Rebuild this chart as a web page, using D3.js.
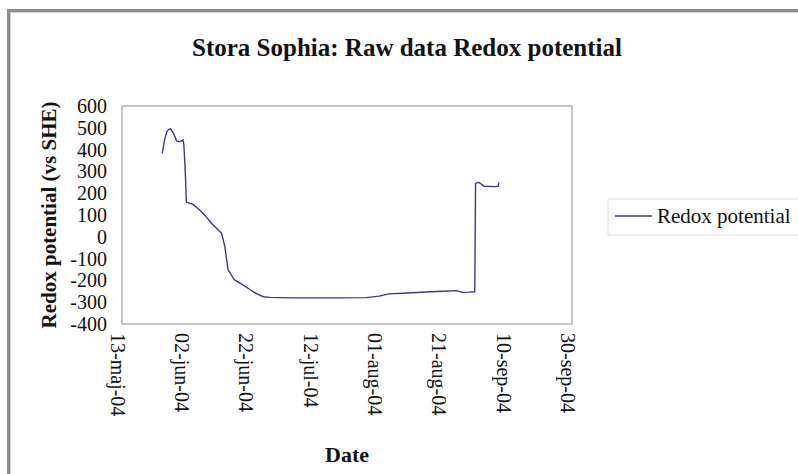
<!DOCTYPE html>
<html><head><meta charset="utf-8">
<script src="https://cdn.jsdelivr.net/npm/d3@7"></script>
<style>html,body{margin:0;padding:0;background:#fff;}svg{display:block;} text{font-family:'Liberation Serif','Times New Roman',serif;}</style>
</head><body>
<svg id="chart" width="798" height="474"></svg>
<script>
const title = "Stora Sophia: Raw data Redox potential";
const yLabel = "Redox potential (vs SHE)";
const xLabel = "Date";
const seriesName = "Redox potential";
const yTicks = [600,500,400,300,200,100,0,-100,-200,-300,-400];
const xTickDates = ["2004-05-13","2004-06-02","2004-06-22","2004-07-12","2004-08-01","2004-08-21","2004-09-10","2004-09-30"];
const monthNames = ["jan","feb","mar","apr","maj","jun","jul","aug","sep","okt","nov","dec"];
const dates = ["2004-05-25T12:00","2004-05-26T06:00","2004-05-27T00:00","2004-05-28T00:00","2004-05-29T00:00","2004-05-30T00:00",
"2004-05-31T00:00","2004-06-01T00:00","2004-06-01T06:00","2004-06-01T12:00","2004-06-01T18:00","2004-06-02T00:00",
"2004-06-03T00:00","2004-06-04T00:00","2004-06-06T00:00","2004-06-08T00:00","2004-06-10T00:00","2004-06-12T00:00",
"2004-06-13T00:00","2004-06-14T00:00","2004-06-15T00:00","2004-06-17T00:00","2004-06-19T00:00","2004-06-22T00:00",
"2004-06-24T00:00","2004-06-26T00:00","2004-06-28T00:00","2004-07-05T00:00","2004-07-20T00:00","2004-07-28T00:00",
"2004-08-01T00:00","2004-08-04T00:00","2004-08-10T00:00","2004-08-17T00:00","2004-08-21T00:00","2004-08-25T00:00",
"2004-08-27T00:00","2004-08-29T00:00","2004-08-30T18:00","2004-08-31T00:00","2004-09-01T00:00","2004-09-02T00:00",
"2004-09-02T12:00","2004-09-06T00:00","2004-09-07T00:00","2004-09-07T06:00"];
const values = [383,445,485,497,475,440,436,445,420,352,276,160,154,150,125,95,60,30,16,-45,-152,-198,-215,-244,
-262,-275,-278,-280,-280,-279,-272,-262,-258,-252,-250,-247,-255,-254,-252,245,250,240,232,230,232,250];

const parse = d3.timeParse("%Y-%m-%dT%H:%M");
const parseDay = d3.timeParse("%Y-%m-%d");
const data = dates.map((d,i)=>({date:parse(d), value:values[i]}));
const svg = d3.select("#chart");
const serif = "'Liberation Serif','Times New Roman',serif";

// outer frame
svg.append("rect").attr("x",8.5).attr("y",10.5).attr("width",800).attr("height",480)
  .attr("fill","#fff").attr("stroke","#8c8c8c").attr("stroke-width",3);
svg.append("rect").attr("x",10.5).attr("y",12.5).attr("width",800).attr("height",480)
  .attr("fill","none").attr("stroke","#d0d0d0").attr("stroke-width",1);

const L=122, R=572, T=106, B=324;
const x = d3.scaleTime().domain([parseDay(xTickDates[0]), parseDay(xTickDates[xTickDates.length-1])]).range([L,R]);
const y = d3.scaleLinear().domain([-400,600]).range([B,T]);

// plot area
svg.append("rect").attr("x",L).attr("y",T).attr("width",R-L).attr("height",B-T)
  .attr("fill","#fff").attr("stroke","#b4b4b4").attr("stroke-width",1.5);

// y axis
const yAxis = d3.axisLeft(y).tickValues(yTicks).tickFormat(d=>String(d)).tickSize(0).tickPadding(15);
const gy = svg.append("g").attr("transform",`translate(${L},0)`).call(yAxis)
  .attr("font-family",serif).attr("font-size",20);
gy.select(".domain").remove();
gy.selectAll("text").attr("fill","#111");

// x axis
const fmt = d => { const dd = String(d.getDate()).padStart(2,"0"); return `${dd}-${monthNames[d.getMonth()]}-${String(d.getFullYear()).slice(2)}`; };
const xAxis = d3.axisBottom(x).tickValues(xTickDates.map(parseDay)).tickFormat(fmt).tickSize(0).tickPadding(0);
const gx = svg.append("g").attr("transform",`translate(0,${B})`).call(xAxis)
  .attr("font-family",serif).attr("font-size",20);
gx.select(".domain").remove();
gx.selectAll("text").attr("fill","#111")
  .attr("text-anchor","start").attr("x",0).attr("y",0).attr("dy","0.33em")
  .attr("transform","translate(-5,9) rotate(90)");

// line
const line = d3.line().x(d=>x(d.date)).y(d=>y(d.value));
svg.append("path").datum(data).attr("d",line).attr("fill","none")
  .attr("stroke","#3c3c82").attr("stroke-width",1.4).attr("stroke-linejoin","round");

// title
svg.append("text").attr("x",407).attr("y",56).attr("text-anchor","middle")
  .attr("font-family",serif).attr("font-weight","bold").attr("font-size",25).attr("fill","#111").text(title);
// y label
svg.append("text").attr("transform",`translate(49,${(T+B)/2}) rotate(-90)`).attr("text-anchor","middle")
  .attr("dy","0.33em")
  .attr("font-family",serif).attr("font-weight","bold").attr("font-size",21).attr("fill","#111").text(yLabel);
// x label
svg.append("text").attr("x",347).attr("y",462).attr("text-anchor","middle")
  .attr("font-family",serif).attr("font-weight","bold").attr("font-size",22).attr("fill","#111").text(xLabel);

// legend
svg.append("rect").attr("x",608).attr("y",199).attr("width",192).attr("height",36)
  .attr("fill","#fff").attr("stroke","#e0e0e0").attr("stroke-width",1);
svg.append("line").attr("x1",615).attr("x2",652).attr("y1",216).attr("y2",216)
  .attr("stroke","#3c3c82").attr("stroke-width",1.4);
svg.append("text").attr("x",657).attr("y",223).attr("font-family",serif).attr("font-size",21)
  .attr("fill","#111").text(seriesName);
</script>
</body></html>
